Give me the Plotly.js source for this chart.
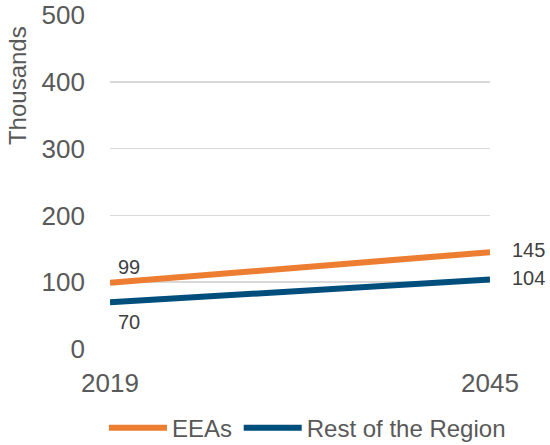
<!DOCTYPE html>
<html>
<head>
<meta charset="utf-8">
<script src="https://cdn.plot.ly/plotly-3.0.1.min.js"></script>
<style>html,body{margin:0;padding:0;background:#fff;}#chart{width:550px;height:445px;}</style>
</head>
<body>
<div id="chart"></div>
<script>
const years = [2019, 2045];
const seriesNames = ["EEAs", "Rest of the Region"];
const eeas = [99, 145];
const restOfRegion = [70, 104];
const yTicks = [0, 100, 200, 300, 400, 500];
const yTitle = "Thousands";

const colors = ["#ED7D31", "#004E7C"];
const allSeries = [eeas, restOfRegion];
const legendIds = ["legend", "legend2"];

const traces = allSeries.map((vals, i) => ({
  x: years, y: vals, name: seriesNames[i], type: "scatter", mode: "lines",
  line: {color: colors[i], width: 6}, hoverinfo: "skip", legend: legendIds[i]
}));

const labelFont = {family: "Liberation Sans, Arial", size: 20, color: "#404040"};
const annotations = [];
allSeries.forEach((vals, i) => {
  annotations.push({x: years[0], y: vals[0], xref: "x", yref: "y", text: String(vals[0]),
    showarrow: false, font: labelFont, xanchor: "left", xshift: 6, yshift: i === 0 ? 16 : -20});
  annotations.push({x: years[1], y: vals[1], xref: "x", yref: "y", text: String(vals[1]),
    showarrow: false, font: labelFont, xanchor: "left", xshift: 20, yshift: 2});
});
annotations.push({x: -0.245, y: 0.79, xref: "paper", yref: "paper", text: yTitle, textangle: -90,
  showarrow: false, xanchor: "center", yanchor: "middle",
  font: {family: "Liberation Sans, Arial", size: 24, color: "#595959"}});

const legendFont = {family: "Liberation Sans, Arial", size: 24, color: "#595959"};
const legendBase = {orientation: "h", xref: "container", yref: "container", xanchor: "left",
  y: 0.038, yanchor: "middle", font: legendFont, itemwidth: 58, itemclick: false};

const tickFont = {family: "Liberation Sans, Arial", size: 26, color: "#595959"};
const layout = {
  width: 550, height: 445,
  margin: {l: 110, r: 60, t: 15, b: 96},
  paper_bgcolor: "#fff", plot_bgcolor: "#fff",
  showlegend: true,
  legend: Object.assign({}, legendBase, {x: 0.189}),
  legend2: Object.assign({}, legendBase, {x: 0.434}),
  xaxis: {range: [years[0], years[1]], tickvals: years, ticktext: years.map(String),
    showgrid: false, zeroline: false, showline: false, ticks: "", tickfont: tickFont,
    ticklabelstandoff: 16, fixedrange: true},
  yaxis: {range: [0, 500], tickvals: yTicks, showgrid: true, gridcolor: "#D9D9D9", gridwidth: 1.5,
    zeroline: false, showline: false, ticks: "", tickfont: tickFont, ticklabelstandoff: 24,
    fixedrange: true},
  annotations: annotations
};
Plotly.newPlot("chart", traces, layout, {displayModeBar: false, staticPlot: true});
</script>
</body>
</html>
